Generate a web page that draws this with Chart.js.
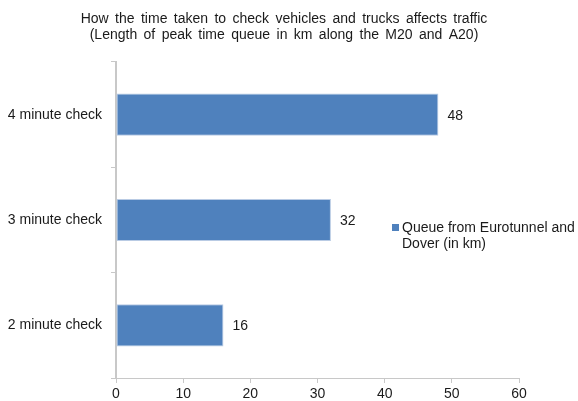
<!DOCTYPE html>
<html>
<head>
<meta charset="utf-8">
<script src="https://cdn.jsdelivr.net/npm/chart.js@4/dist/chart.umd.min.js"></script>
<style>
  body { margin: 0; background: #fff; }
  #wrap { width: 578px; height: 401px; }
</style>
</head>
<body>
<div id="wrap"><canvas id="queueChart" width="578" height="401"></canvas></div>
<script>
// data
var categories = ['4 minute check', '3 minute check', '2 minute check'];
var queueKm = [48, 32, 16];
var seriesName = ['Queue from Eurotunnel and', 'Dover (in km)'];
var titleLines = [
    'How the time taken to check vehicles and trucks affects traffic',
    '(Length of peak time queue in km along the M20 and A20)'
];

var fontName = '"Liberation Sans", Arial, sans-serif';
var textColor = '#1a1a1a';

// title drawn by hand so the wide Excel word spacing can be kept
var titleText = {
    id: 'titleText',
    afterDraw: function(chart) {
        var ctx = chart.ctx;
        ctx.save();
        ctx.font = '14px ' + fontName;
        ctx.fillStyle = textColor;
        ctx.textAlign = 'center';
        ctx.textBaseline = 'middle';
        ctx.wordSpacing = '2.5px';
        ctx.fillText(titleLines[0], 284, 19);
        ctx.fillText(titleLines[1], 284, 35);
        ctx.restore();
    }
};

// value labels at the end of each bar
var valueLabels = {
    id: 'valueLabels',
    afterDatasetsDraw: function(chart) {
        var ctx = chart.ctx;
        var meta = chart.getDatasetMeta(0);
        ctx.save();
        ctx.font = '14px ' + fontName;
        ctx.fillStyle = textColor;
        ctx.textAlign = 'left';
        ctx.textBaseline = 'middle';
        meta.data.forEach(function(bar, i) {
            ctx.fillText(queueKm[i], bar.x + 9, bar.y + 1);
        });
        ctx.restore();
    }
};

// Excel-style legend floating on the right
var sideLegend = {
    id: 'sideLegend',
    afterDraw: function(chart) {
        var ctx = chart.ctx;
        ctx.save();
        ctx.fillStyle = '#4f81bd';
        ctx.fillRect(392, 224, 7, 7);
        ctx.font = '14px ' + fontName;
        ctx.fillStyle = textColor;
        ctx.textBaseline = 'middle';
        ctx.fillText(seriesName[0], 402, 228);
        ctx.fillText(seriesName[1], 402, 244);
        ctx.restore();
    }
};

var ctx = document.getElementById('queueChart').getContext('2d');
var queueChart = new Chart(ctx, {
    type: 'bar',
    data: {
        labels: categories,
        datasets: [{
            label: seriesName.join(' '),
            data: queueKm,
            backgroundColor: '#4f81bd',
            borderColor: '#b9cbe4',
            borderWidth: 1,
            borderSkipped: false,
            barPercentage: 0.4,
            categoryPercentage: 1
        }]
    },
    options: {
        indexAxis: 'y',
        responsive: false,
        animation: false,
        layout: { padding: { left: 8, right: 59, top: 62, bottom: 0 } },
        scales: {
            x: {
                min: 0,
                max: 60,
                afterFit: function(scale) { scale.height = 23; },
                ticks: { stepSize: 10, color: textColor, font: { family: fontName, size: 14, lineHeight: 1 }, padding: 4 },
                grid: { drawOnChartArea: false, tickLength: 5, color: '#c8c8c8' },
                border: { color: '#c8c8c8', width: 1 }
            },
            y: {
                afterFit: function(scale) { scale.width = 108; },
                ticks: { color: textColor, font: { family: fontName, size: 14 }, padding: 9 },
                grid: { drawOnChartArea: false, tickLength: 5, offset: true, color: '#c8c8c8' },
                border: { color: '#c8c8c8', width: 2 }
            }
        },
        plugins: {
            legend: { display: false },
            tooltip: { enabled: false },
            title: { display: false }
        }
    },
    plugins: [titleText, valueLabels, sideLegend]
});
</script>
</body>
</html>
